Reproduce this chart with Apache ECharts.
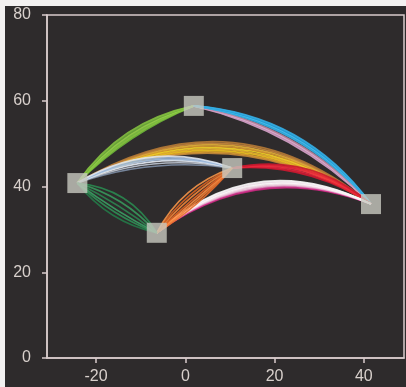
<!DOCTYPE html>
<html>
<head>
<meta charset="utf-8">
<script src="https://cdn.jsdelivr.net/npm/echarts@6/dist/echarts.min.js"></script>
<style>
  html, body { margin: 0; padding: 0; background: #2e2b2c; }
  #chart { width: 406px; height: 387px; }
</style>
</head>
<body>
<div id="chart"></div>
<script>
// Node positions (data units)
const nodeX = [-24.2, 1.9, -6.4, 10.5, 41.6];
const nodeY = [40.8, 58.8, 29.2, 44.3, 35.9];

// Links between nodes: [from, to]
const links = [[0, 1], [1, 4], [0, 4], [0, 3], [3, 4], [2, 4], [2, 3], [0, 2]];

// Tick labels
const xTicks = [-20, 0, 20, 40];
const yTicks = [0, 20, 40, 60, 80];

// Strand bends for each link (one entry per drawn strand)
const strandBends = [
  [0.10, 0.12, 0.14, 0.16, 0.18, 0.20],
  [0.14, 0.15, 0.16, 0.17, 0.19, 0.20, 0.21, 0.22, 0.23],
  [0.27, 0.28, 0.29, 0.30, 0.31, 0.32, 0.33, 0.34, 0.35],
  [0.12, 0.15, 0.18, 0.20, 0.22, 0.24],
  [0.17, 0.19, 0.21, 0.23, 0.25],
  [0.27, 0.28, 0.29, 0.30, 0.31, 0.32, 0.33, 0.34],
  [-0.08, -0.04, 0.0, 0.04, 0.09, 0.14, 0.2],
  [-0.18, -0.10, -0.04, 0.05, 0.15, 0.25]
];

// Strand colours for each link
const strandColors = [
  ['#6fb83a', '#8cc63f', '#7dc242', '#9ad04a', '#6aaa38', '#84c040'],
  ['#d8a6cc', '#c890b8', '#e0b4d4', '#b9849f', '#3fb6e8', '#2aa7df', '#4cc0ee', '#1f9ad4', '#36aee4'],
  ['#c88a3a', '#e0a030', '#f2c420', '#e8b030', '#f5d428', '#d8962e', '#e6b23a', '#c8883c', '#b67a36'],
  ['#7e8ea6', '#c0c8d4', '#e8eef8', '#a8c4e4', '#98b4d8', '#dfe6f0'],
  ['#d01830', '#e8203a', '#f03040', '#e42238', '#c81a2e'],
  ['#c8287e', '#d83a96', '#e6a0c8', '#f0d0e2', '#f8e8f0', '#ffffff', '#f4e4ee', '#fafafa'],
  ['#e86a28', '#f07a30', '#ff8c40', '#e46424', '#f08438', '#d86020', '#f59448'],
  ['#247a48', '#2f8f55', '#3aa064', '#2c8450', '#37985c', '#2a8a50']
];

const axisColor = '#d9cccc';
const textColor = '#d8d0cc';

const lineData = [];
links.forEach(function (lk, li) {
  const a = lk[0], b = lk[1];
  strandBends[li].forEach(function (c, si) {
    lineData.push({
      coords: [[nodeX[a], nodeY[a]], [nodeX[b], nodeY[b]]],
      lineStyle: {
        curveness: c,
        color: strandColors[li][si % strandColors[li].length],
        width: 1.7,
        opacity: 0.9
      }
    });
  });
});

const nodeData = nodeX.map(function (x, i) { return [x, nodeY[i]]; });

const chart = echarts.init(document.getElementById('chart'), null, { renderer: 'canvas' });
chart.setOption({
  backgroundColor: '#2e2b2c',
  animation: false,
  grid: {
    left: 47, right: 2, top: 15, bottom: 29,
    show: true, borderColor: axisColor, borderWidth: 1.5,
    backgroundColor: 'transparent'
  },
  xAxis: {
    type: 'value', min: -31, max: 49,
    axisLine: { show: true, onZero: false, lineStyle: { color: axisColor, width: 1.5 } },
    axisTick: { show: true, length: 5, customValues: xTicks, lineStyle: { color: axisColor, width: 1.5 } },
    axisLabel: {
      customValues: xTicks, color: textColor, fontSize: 16,
      fontFamily: 'Liberation Sans, Arial, sans-serif', margin: 11
    },
    splitLine: { show: false }
  },
  yAxis: {
    type: 'value', min: 0, max: 80,
    axisLine: { show: true, onZero: false, lineStyle: { color: axisColor, width: 1.5 } },
    axisTick: { show: true, length: 5, customValues: yTicks, lineStyle: { color: axisColor, width: 1.5 } },
    axisLabel: {
      customValues: yTicks, color: textColor, fontSize: 16,
      fontFamily: 'Liberation Sans, Arial, sans-serif', margin: 16
    },
    splitLine: { show: false }
  },
  graphic: [
    { type: 'rect', left: 0, top: 0, z: 100, shape: { width: 406, height: 6 }, style: { fill: '#f3f1f1' } },
    { type: 'rect', left: 0, top: 0, z: 100, shape: { width: 5, height: 387 }, style: { fill: '#f3f1f1' } }
  ],
  series: [
    {
      type: 'lines',
      coordinateSystem: 'cartesian2d',
      polyline: false,
      silent: true,
      z: 2,
      data: lineData
    },
    {
      type: 'scatter',
      symbol: 'rect',
      symbolSize: 20,
      z: 10,
      zlevel: 1,
      itemStyle: { color: '#c8c9c0' },
      data: nodeData
    }
  ]
});
</script>
</body>
</html>
